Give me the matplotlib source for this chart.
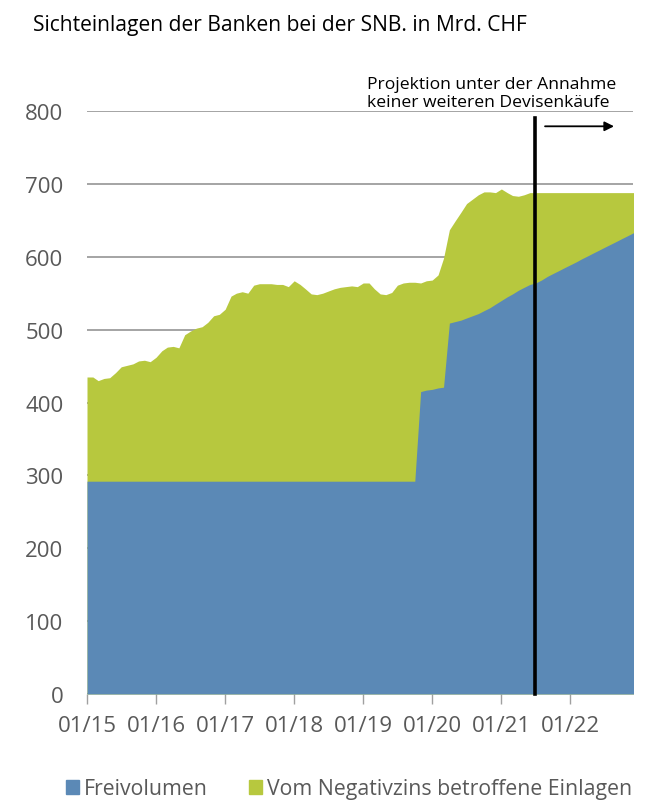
import numpy as np
import pandas as pd
import matplotlib
matplotlib.use("Agg")
import matplotlib.pyplot as plt
import matplotlib.dates as mdates
import matplotlib.patches as mpatches

plt.rcParams["font.family"] = ["Open Sans", "DejaVu Sans"]

# Monthly values, Jan 2015 .. Dec 2022 (Mrd. CHF)
months = pd.date_range("2015-01-01", "2022-12-01", freq="MS")

total = [
    435, 435, 430, 433, 434, 441, 449, 451, 453, 457, 458, 456,   # 2015
    462, 471, 476, 477, 475, 493, 498, 502, 504, 510, 519, 521,   # 2016
    528, 546, 550, 552, 550, 561, 563, 563, 563, 562, 562, 559,   # 2017
    567, 562, 556, 549, 548, 550, 553, 556, 558, 559, 560, 559,   # 2018
    564, 564, 556, 549, 548, 551, 561, 564, 565, 565, 564, 567,   # 2019
    568, 575, 598, 637, 649, 661, 673, 679, 685, 689, 689, 688,   # 2020
    693, 688, 684, 683, 685, 688, 688, 688, 688, 688, 688, 688,   # 2021
    688, 688, 688, 688, 688, 688, 688, 688, 688, 688, 688, 688,   # 2022
]

freivolumen = [
    292, 292, 292, 292, 292, 292, 292, 292, 292, 292, 292, 292,   # 2015
    292, 292, 292, 292, 292, 292, 292, 292, 292, 292, 292, 292,   # 2016
    292, 292, 292, 292, 292, 292, 292, 292, 292, 292, 292, 292,   # 2017
    292, 292, 292, 292, 292, 292, 292, 292, 292, 292, 292, 292,   # 2018
    292, 292, 292, 292, 292, 292, 292, 292, 292, 292, 415, 417,   # 2019
    418, 420, 421, 509, 511, 513, 516, 519, 522, 526, 530, 535,   # 2020
    540, 545, 549, 554, 558, 562, 564, 568, 573, 577, 581, 585,   # 2021
    589, 593, 597, 601, 605, 609, 613, 617, 621, 625, 629, 633,   # 2022
]

projection_start = pd.Timestamp("2021-06-28")
year_ticks = pd.date_range("2015-01-01", "2022-01-01", freq="YS")
y_ticks = list(range(0, 801, 100))

blue = "#5b89b6"
green = "#b7c83e"
grey_text = "#595959"

fig = plt.figure(figsize=(6.71, 8.12), dpi=100)
ax = fig.add_axes([87 / 671, 1 - 695 / 812, (633.5 - 87) / 671, (695 - 112) / 812])

ax.fill_between(months, 0, total, color=green, lw=0, zorder=2)
ax.fill_between(months, 0, freivolumen, color=blue, lw=0, zorder=3)

ax.set_xlim(months[0], months[-1])
ax.set_ylim(0, 800)
ax.set_yticks(y_ticks)
ax.yaxis.grid(True, color="#8c8c8c", lw=1.1, zorder=0)
ax.set_axisbelow(True)

ax.set_xticks(year_ticks)
ax.xaxis.set_major_formatter(mdates.DateFormatter("%m/%y"))
ax.tick_params(axis="x", length=7, width=1, color="#a0a0a0", pad=8,
               labelsize=16, labelcolor=grey_text)
ax.tick_params(axis="y", length=0, pad=17, labelsize=16, labelcolor=grey_text)
for s in ax.spines.values():
    s.set_visible(False)

# projection marker
ax.plot([projection_start, projection_start], [0, 790], color="black", lw=2.6,
        zorder=5, clip_on=False)
ax.annotate("", xy=(pd.Timestamp("2022-08-20"), 779),
            xytext=(pd.Timestamp("2021-08-20"), 779),
            arrowprops=dict(arrowstyle="-|>", color="black", lw=1.3,
                            mutation_scale=14, shrinkA=0, shrinkB=0),
            annotation_clip=False)
fig.text(367 / 671, 1 - 111 / 812,
         "Projektion unter der Annahme\nkeiner weiteren Devisenkäufe",
         ha="left", va="bottom", fontsize=12.6, color="black", linespacing=1.2)

fig.text(33 / 671, 1 - 31 / 812, "Sichteinlagen der Banken bei der SNB. in Mrd. CHF",
         ha="left", va="baseline", fontsize=15.1, color="black")

handles = [mpatches.Patch(color=blue, label="Freivolumen"),
           mpatches.Patch(color=green, label="Vom Negativzins betroffene Einlagen")]
fig.legend(handles=handles, loc="center", bbox_to_anchor=(349 / 671, 1 - 790 / 812),
           ncol=2, frameon=False, fontsize=15.3, labelcolor=grey_text,
           handlelength=0.62, handleheight=0.62, handletextpad=0.25,
           columnspacing=1.9, borderaxespad=0)

fig.savefig("out.png", dpi=100)
